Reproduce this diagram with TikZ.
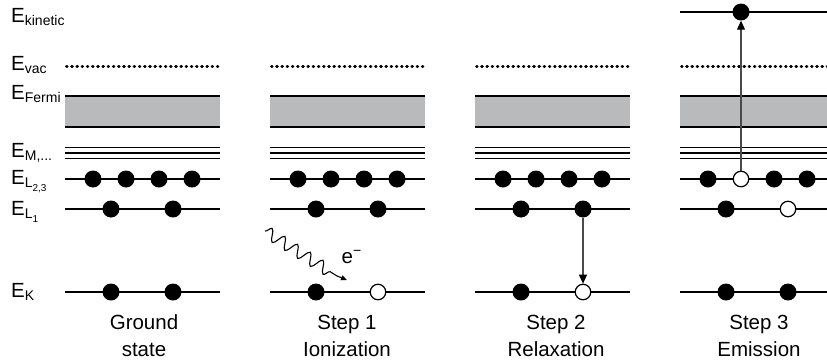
\documentclass[tikz,border=0pt]{standalone}
\usepackage{fontspec}
\setmainfont{Liberation Sans}
\usetikzlibrary{arrows.meta,decorations.pathmorphing}
\definecolor{bandgray}{HTML}{B8BABC}
\definecolor{arrowgray}{HTML}{4A4A4A}
% level symbol: big E with a lowered subscript (and an optional second-order subscript)
\newcommand{\bigE}{{\fontsize{20.5}{24}\selectfont E}}
\newcommand{\lvsub}[1]{\raisebox{-3pt}{\fontsize{14}{16}\selectfont #1}}
\newcommand{\lvsubsub}[1]{\raisebox{-4pt}{\fontsize{10}{12}\selectfont #1}}
\begin{document}
\begin{tikzpicture}[x=1pt,y=-1pt,
  level/.style={line width=2pt},
  mlevel/.style={line width=1.9pt},
  vaclevel/.style={line width=3pt,line cap=round,dash pattern=on 0.6pt off 4.6pt},
  elec/.style={circle,fill=black,inner sep=0pt,minimum size=17pt},
  hole/.style={circle,draw=black,line width=1.2pt,fill=white,inner sep=0pt,minimum size=15.5pt},
  lbl/.style={anchor=base west,inner sep=0pt},
  caption/.style={align=center,font=\fontsize{20.5}{27}\selectfont,inner sep=0pt,anchor=base},
  trans/.style={draw=arrowgray,line width=1.2pt,-{Triangle[length=9pt,width=8pt,color=black]}}]
\useasboundingbox (0,0) rectangle (827,360);
\begin{scope}
\clip (0,0) rectangle (827,360);
% energy levels of the four panels
\foreach \p in {65,270,475,680}{
  \fill[bandgray] (\p,96) rectangle (\p+155,127);
  \draw[level] (\p,96) -- (\p+155,96);
  \draw[level] (\p,127) -- (\p+155,127);
  \draw[vaclevel] (\p+1.5,66) -- (\p+155,66);
  \draw[mlevel] (\p,147.5) -- (\p+155,147.5);
  \draw[mlevel] (\p,153) -- (\p+155,153);
  \draw[mlevel] (\p,158.5) -- (\p+155,158.5);
  \draw[level] (\p,179) -- (\p+155,179);
  \draw[level] (\p,209) -- (\p+155,209);
  \draw[level] (\p,292) -- (\p+155,292);
}
% kinetic level, only after emission
\draw[level] (680,12) -- (835,12);
\end{scope}

% level labels
\node[lbl] (Ekin) at (11,22.7) {\bigE\lvsub{kinetic}};
\node[lbl] (Evac) at (11,70.7) {\bigE\lvsub{vac}};
\node[lbl] (Efermi) at (11,99.3) {\bigE\lvsub{Fermi}};
\node[lbl] (EM) at (11,157.3) {\bigE\lvsub{M,...}};
\node[lbl] (EL23) at (11,184) {\bigE\lvsub{L\lvsubsub{2,3}}};
\node[lbl] (EL1) at (11,215) {\bigE\lvsub{L\lvsubsub{1}}};
\node[lbl] (EK) at (11,297.3) {\bigE\lvsub{K}};

% panel 1: ground state
\foreach \k/\dx in {a/28,b/61,c/94,d/127}{\node[elec] (g-L23\k) at (65+\dx,179) {};}
\node[elec] (g-L1a) at (111,209) {};
\node[elec] (g-L1b) at (173,209) {};
\node[elec] (g-Ka) at (111,292) {};
\node[elec] (g-Kb) at (173,292) {};

% panel 2: ionization
\foreach \k/\dx in {a/28,b/61,c/94,d/127}{\node[elec] (i-L23\k) at (270+\dx,179) {};}
\node[elec] (i-L1a) at (316,209) {};
\node[elec] (i-L1b) at (378,209) {};
\node[elec] (i-Ka) at (316,292) {};
\node[hole] (i-Kb) at (378,292) {};
\coordinate (ph0) at (265,231);
\coordinate (ph1) at (337,276);
\coordinate (ph2) at (347,280);
\draw[line width=1.1pt,decorate,decoration={snake,amplitude=6pt,segment length=15pt,post length=2pt}] (ph0) -- (ph1);
\draw[line width=1.1pt,-{Triangle[length=6pt,width=5pt]}] (ph1) -- (ph2);
\node[lbl] (elabel) at (341.5,263.3) {\fontsize{20.5}{24}\selectfont e\textsuperscript{\fontsize{14}{16}\selectfont −}};

% panel 3: relaxation
\foreach \k/\dx in {a/28,b/61,c/94,d/127}{\node[elec] (r-L23\k) at (475+\dx,179) {};}
\node[elec] (r-L1a) at (521,209) {};
\node[elec] (r-L1b) at (583,209) {};
\node[elec] (r-Ka) at (521,292) {};
\node[hole] (r-Kb) at (583,292) {};
\draw[trans] (r-L1b) -- (r-Kb);

% panel 4: emission
\node[elec] (m-L23a) at (708,179) {};
\node[hole] (m-L23b) at (741,179) {};
\node[elec] (m-L23c) at (774,179) {};
\node[elec] (m-L23d) at (807,179) {};
\node[elec] (m-L1a) at (726,209) {};
\node[hole] (m-L1b) at (788,209) {};
\node[elec] (m-Ka) at (726,292) {};
\node[elec] (m-Kb) at (788,292) {};
\node[elec] (m-kin) at (741,12) {};
\draw[trans] (m-L23b) -- (m-kin);

% captions (base anchor sits on the second line)
\node[caption] (c1) at (144,356.5) {Ground\\state};
\node[caption] (c2) at (347,356.5) {Step 1\\Ionization};
\node[caption] (c3) at (556,356.5) {Step 2\\Relaxation};
\node[caption] (c4) at (759,356.5) {Step 3\\Emission};
\end{tikzpicture}
\end{document}
